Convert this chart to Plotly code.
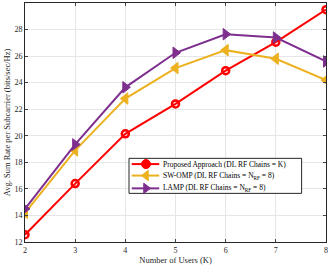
import plotly.graph_objects as go

users = [2, 3, 4, 5, 6, 7, 8]
proposed = [12.55, 16.4, 20.15, 22.4, 24.9, 27.05, 29.5]
sw_omp = [14.2, 18.9, 22.8, 25.1, 26.45, 25.8, 24.2]
lamp = [14.5, 19.35, 23.65, 26.25, 27.65, 27.4, 25.6]
y_ticks = [12, 14, 16, 18, 20, 22, 24, 26, 28, 30]

names = [
    "Proposed Approach (DL RF Chains = K)",
    "SW-OMP (DL RF Chains = N<sub>RF</sub> = 8)",
    "LAMP (DL RF Chains = N<sub>RF</sub> = 8)",
]
colors = ["#FF0000", "#EDB120", "#7E2F8E"]
symbols = ["circle-open", "triangle-left", "triangle-right"]
legend_symbols = ["circle", "triangle-left", "triangle-right"]
series = [proposed, sw_omp, lamp]

font_family = "Liberation Serif"
fig = go.Figure()
for name, col, sym, vals in zip(names, colors, symbols, series):
    fig.add_trace(go.Scatter(
        x=users, y=vals, name=name, mode="lines+markers", showlegend=False,
        line=dict(color=col, width=2),
        marker=dict(symbol=sym, size=10 if sym != "circle-open" else 7,
                    color=col, line=dict(color=col, width=2.5 if sym == "circle-open" else 1)),
    ))

# custom compact legend (overlay axes in 0..1 units of the plot area)
bx0, bx1, by0, by1 = 0.3455, 0.919, 0.2035, 0.350
entry_y = [0.326, 0.278, 0.2244]
line_x = [0.3545, 0.446]
mark_x = 0.402
text_x = 0.452

fig.add_trace(go.Scatter(
    x=[bx0, bx1, bx1, bx0, bx0], y=[by0, by0, by1, by1, by0],
    xaxis="x2", yaxis="y2", mode="lines", fill="toself", fillcolor="white",
    line=dict(color="#262626", width=1), showlegend=False, hoverinfo="skip"))

annotations = []
for name, col, sym, ey in zip(names, colors, legend_symbols, entry_y):
    fig.add_trace(go.Scatter(
        x=line_x, y=[ey, ey], xaxis="x2", yaxis="y2", mode="lines",
        line=dict(color=col, width=2), showlegend=False, hoverinfo="skip"))
    fig.add_trace(go.Scatter(
        x=[mark_x], y=[ey], xaxis="x2", yaxis="y2", mode="markers",
        marker=dict(symbol=sym, size=9, color=col, line=dict(color=col, width=1)),
        showlegend=False, hoverinfo="skip"))
    annotations.append(dict(
        x=text_x, y=ey, xref="paper", yref="paper", text=name,
        showarrow=False, xanchor="left", yanchor="middle",
        font=dict(family=font_family, size=7.5, color="#000")))

fig.update_layout(
    width=332, height=269,
    margin=dict(l=25, r=6, t=3, b=27),
    paper_bgcolor="white", plot_bgcolor="white",
    font=dict(family=font_family, size=8, color="#262626"),
    showlegend=False,
    annotations=annotations,
    xaxis=dict(
        range=[2, 8], tickvals=users, ticks="inside", ticklen=3,
        showgrid=True, gridcolor="#E6E6E6", gridwidth=1,
        showline=True, linecolor="#262626", linewidth=1, mirror="ticks",
        zeroline=False, automargin=False,
        title=dict(text="Number of Users (K)", standoff=2, font=dict(size=8.5)),
        tickfont=dict(size=8),
    ),
    yaxis=dict(
        range=[12, 30], tickvals=y_ticks, ticks="inside", ticklen=3,
        showgrid=True, gridcolor="#E6E6E6", gridwidth=1,
        showline=True, linecolor="#262626", linewidth=1, mirror="ticks",
        zeroline=False, automargin=False,
        title=dict(text="Avg. Sum Rate per Subcarrier (bits/sec/Hz)", standoff=2, font=dict(size=8.5)),
        tickfont=dict(size=8),
    ),
    xaxis2=dict(range=[0, 1], overlaying="x", visible=False, fixedrange=True),
    yaxis2=dict(range=[0, 1], overlaying="y", visible=False, fixedrange=True),
)

fig.write_html("out.html", config={"displayModeBar": False},
               post_script="document.body.style.margin='0';document.body.style.overflow='hidden';")
